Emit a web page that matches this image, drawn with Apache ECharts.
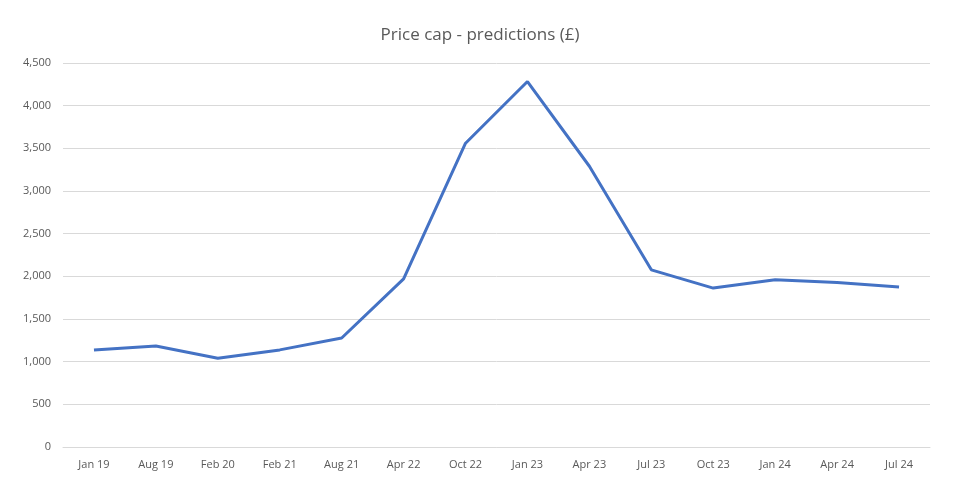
<!DOCTYPE html>
<html><head><meta charset="utf-8">
<script src="https://cdn.jsdelivr.net/npm/echarts@6/dist/echarts.min.js"></script>
<style>html,body{margin:0;padding:0;background:#fff}#c{width:960px;height:483px}</style>
</head><body><div id="c"></div>
<script>
var categories = ['Jan 19','Aug 19','Feb 20','Feb 21','Aug 21','Apr 22','Oct 22','Jan 23','Apr 23','Jul 23','Oct 23','Jan 24','Apr 24','Jul 24'];
var priceCap = [1137,1184,1040,1138,1277,1971,3560,4283,3290,2076,1862,1960,1928,1874];
var chart = echarts.init(document.getElementById('c'));
chart.setOption({
  animation:false,
  title:{text:'Price cap - predictions (£)',left:'center',top:22,textStyle:{fontFamily:'Open Sans',fontSize:17,fontWeight:'normal',color:'#595959'}},
  grid:{left:63,right:30,top:63,bottom:36},
  xAxis:{type:'category',data:categories,boundaryGap:true,
    axisLine:{lineStyle:{color:'#d9d9d9'}},axisTick:{show:false},
    axisLabel:{color:'#595959',fontFamily:'Open Sans',fontSize:11,margin:12}},
  yAxis:{type:'value',min:0,max:4500,interval:500,
    axisLine:{show:false},axisTick:{show:false},
    splitLine:{lineStyle:{color:'#d9d9d9'}},
    axisLabel:{color:'#595959',fontFamily:'Open Sans',fontSize:11,margin:12,
      formatter:function(v){return v.toLocaleString('en-GB');}}},
  series:[{type:'line',data:priceCap,symbol:'none',lineStyle:{color:'#4472C4',width:3}}]
});
</script></body></html>
